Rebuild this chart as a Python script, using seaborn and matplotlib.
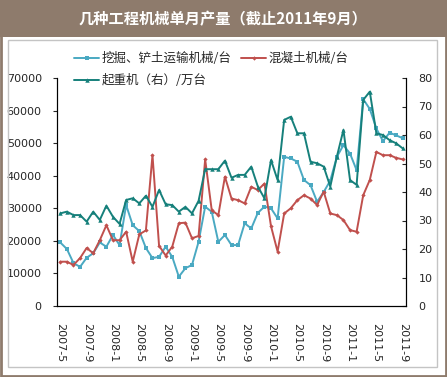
import numpy as np
import pandas as pd
import matplotlib
matplotlib.use("Agg")
import matplotlib.pyplot as plt
import seaborn as sns
from matplotlib.patches import Rectangle
from matplotlib.lines import Line2D

# ---------------- data ----------------
months = [f"{y}-{m}" for y in range(2007, 2012) for m in range(1, 13)
          if (y, m) >= (2007, 5) and (y, m) <= (2011, 9)]

excavator = [19500, 17500, 13200, 12000, 14800, 16200, 19500, 18200, 21800, 18700,
             31000, 24800, 23000, 17800, 14700, 15100, 18200, 15100, 9000, 11600,
             12600, 19700, 30500, 28900, 19700, 21800, 18700, 18700, 25400, 23800,
             28600, 30500, 30000, 26900, 45800, 45300, 44300, 38700, 37100, 32000,
             35000, 38500, 45800, 49400, 46800, 41700, 63500, 60500, 54500, 50600,
             53200, 52400, 51500]

concrete = [13600, 13600, 12600, 14700, 17800, 16200, 20200, 24800, 20200, 20200,
            22800, 13600, 22000, 23200, 46300, 18500, 15500, 18200, 25400, 25600,
            20800, 21500, 45000, 29400, 27900, 39700, 33000, 32500, 31500, 36600,
            35600, 37600, 24500, 16700, 28400, 30000, 32500, 34000, 33000, 31000,
            35100, 28400, 27900, 26400, 23300, 22800, 34000, 38700, 47300, 46300,
            46300, 45500, 45000]

crane = [32.5, 33.1, 31.9, 31.9, 29.6, 33.1, 30.2, 35.2, 31.3, 28.8,
         37.2, 37.8, 36.0, 38.7, 34.8, 40.7, 35.7, 35.4, 33.1, 34.8,
         32.5, 36.9, 48.0, 48.0, 48.0, 51.0, 45.0, 46.0, 46.0, 48.9,
         41.9, 37.8, 51.2, 44.2, 65.3, 66.4, 60.6, 60.6, 50.6, 50.1,
         48.9, 41.9, 52.4, 61.8, 44.2, 42.5, 72.3, 75.2, 60.6, 60.0,
         58.2, 57.1, 55.3]

tick_labels = ["2007-5", "2007-9", "2008-1", "2008-5", "2008-9", "2009-1", "2009-5",
               "2009-9", "2010-1", "2010-5", "2010-9", "2011-1", "2011-5", "2011-9"]

series_names = ["挖掘、铲土运输机械/台", "混凝土机械/台", "起重机（右）/万台"]
title = "几种工程机械单月产量（截止2011年9月）"

# ---------------- style ----------------
sns.set_style("white")
plt.rcParams["font.family"] = ["Noto Sans CJK SC", "DejaVu Sans"]

c_blue = "#4aa9c2"
c_red = "#c0504d"
c_teal = "#16807b"
brown = "#8e7b6c"

df = pd.DataFrame({"idx": np.arange(len(months)), "month": months,
                   "excavator": excavator, "concrete": concrete, "crane": crane})

fig = plt.figure(figsize=(4.47, 3.77), dpi=100)
fig.patch.set_facecolor("white")

# title band & frames
fig.patches.append(Rectangle((0, 1 - 37 / 377), 1, 37 / 377, transform=fig.transFigure,
                             facecolor=brown, edgecolor="none", zorder=0))
fig.patches.append(Rectangle((0.002, 0.003), 0.996, 0.994, transform=fig.transFigure,
                             fill=False, edgecolor=brown, lw=2, zorder=0))
fig.patches.append(Rectangle((8 / 447, 1 - 367 / 377), 429 / 447, 327 / 377,
                             transform=fig.transFigure, fill=False,
                             edgecolor="#c4c4c4", lw=1, zorder=0))
fig.text(0.5, 1 - 19 / 377, title, color="white", fontsize=11, fontweight="bold",
         ha="center", va="center")

ax = fig.add_axes([57 / 447, 71 / 377, 349 / 447, 228 / 377])
ax2 = ax.twinx()

sns.lineplot(data=df, x="idx", y="excavator", ax=ax, color=c_blue, lw=1.4,
             marker="s", markersize=2.8, markeredgewidth=0, legend=False)
sns.lineplot(data=df, x="idx", y="concrete", ax=ax, color=c_red, lw=1.4,
             marker="D", markersize=2.2, markeredgewidth=0, legend=False)
sns.lineplot(data=df, x="idx", y="crane", ax=ax2, color=c_teal, lw=1.4,
             marker="^", markersize=3.2, markeredgewidth=0, legend=False)

ax.set_xlim(-0.5, len(months) - 0.5)
ax.set_ylim(0, 70000)
ax2.set_ylim(0, 80)
ax.set_yticks(np.arange(0, 70001, 10000))
ax2.set_yticks(np.arange(0, 81, 10))
label_pos = [months.index(t) for t in tick_labels]
ax.set_xticks(label_pos)
ax.set_xticklabels(tick_labels, rotation=-90, fontsize=8, family="DejaVu Sans")
ax.set_xticks(np.arange(-0.5, len(months), 1), minor=True)
ax.tick_params(axis="x", which="major", length=0, pad=12)
ax.tick_params(axis="x", which="minor", length=3.5, direction="in", width=0.8)
ax.tick_params(axis="y", which="major", length=3, direction="out", width=0.8, pad=8,
               labelsize=8)
ax2.tick_params(axis="y", which="major", length=3, direction="in", width=0.8, pad=9,
                labelsize=8)
for lab in ax.get_yticklabels() + ax2.get_yticklabels():
    lab.set_family("DejaVu Sans")
ax.set_xlabel("")
ax.set_ylabel("")
ax2.set_ylabel("")
for a in (ax, ax2):
    a.grid(False)
    a.spines["top"].set_visible(False)
    for s in ("left", "right", "bottom"):
        a.spines[s].set_color("black")
        a.spines[s].set_linewidth(0.8)
ax.patch.set_alpha(0)

handles = [Line2D([], [], color=c_blue, lw=1.4, marker="s", markersize=2.8, markeredgewidth=0),
           Line2D([], [], color=c_teal, lw=1.4, marker="^", markersize=3.2, markeredgewidth=0),
           Line2D([], [], color=c_red, lw=1.4, marker="D", markersize=2.2, markeredgewidth=0)]
labels = [series_names[0], series_names[2], series_names[1]]
fig.legend(handles, labels, loc="upper left", bbox_to_anchor=(74 / 447, 1 - 52 / 377),
           ncol=2, frameon=False, fontsize=9, handlelength=2.0, handletextpad=0.2,
           columnspacing=0.8, labelspacing=0.75, borderpad=0, borderaxespad=0)

fig.savefig("out.png", dpi=100)
